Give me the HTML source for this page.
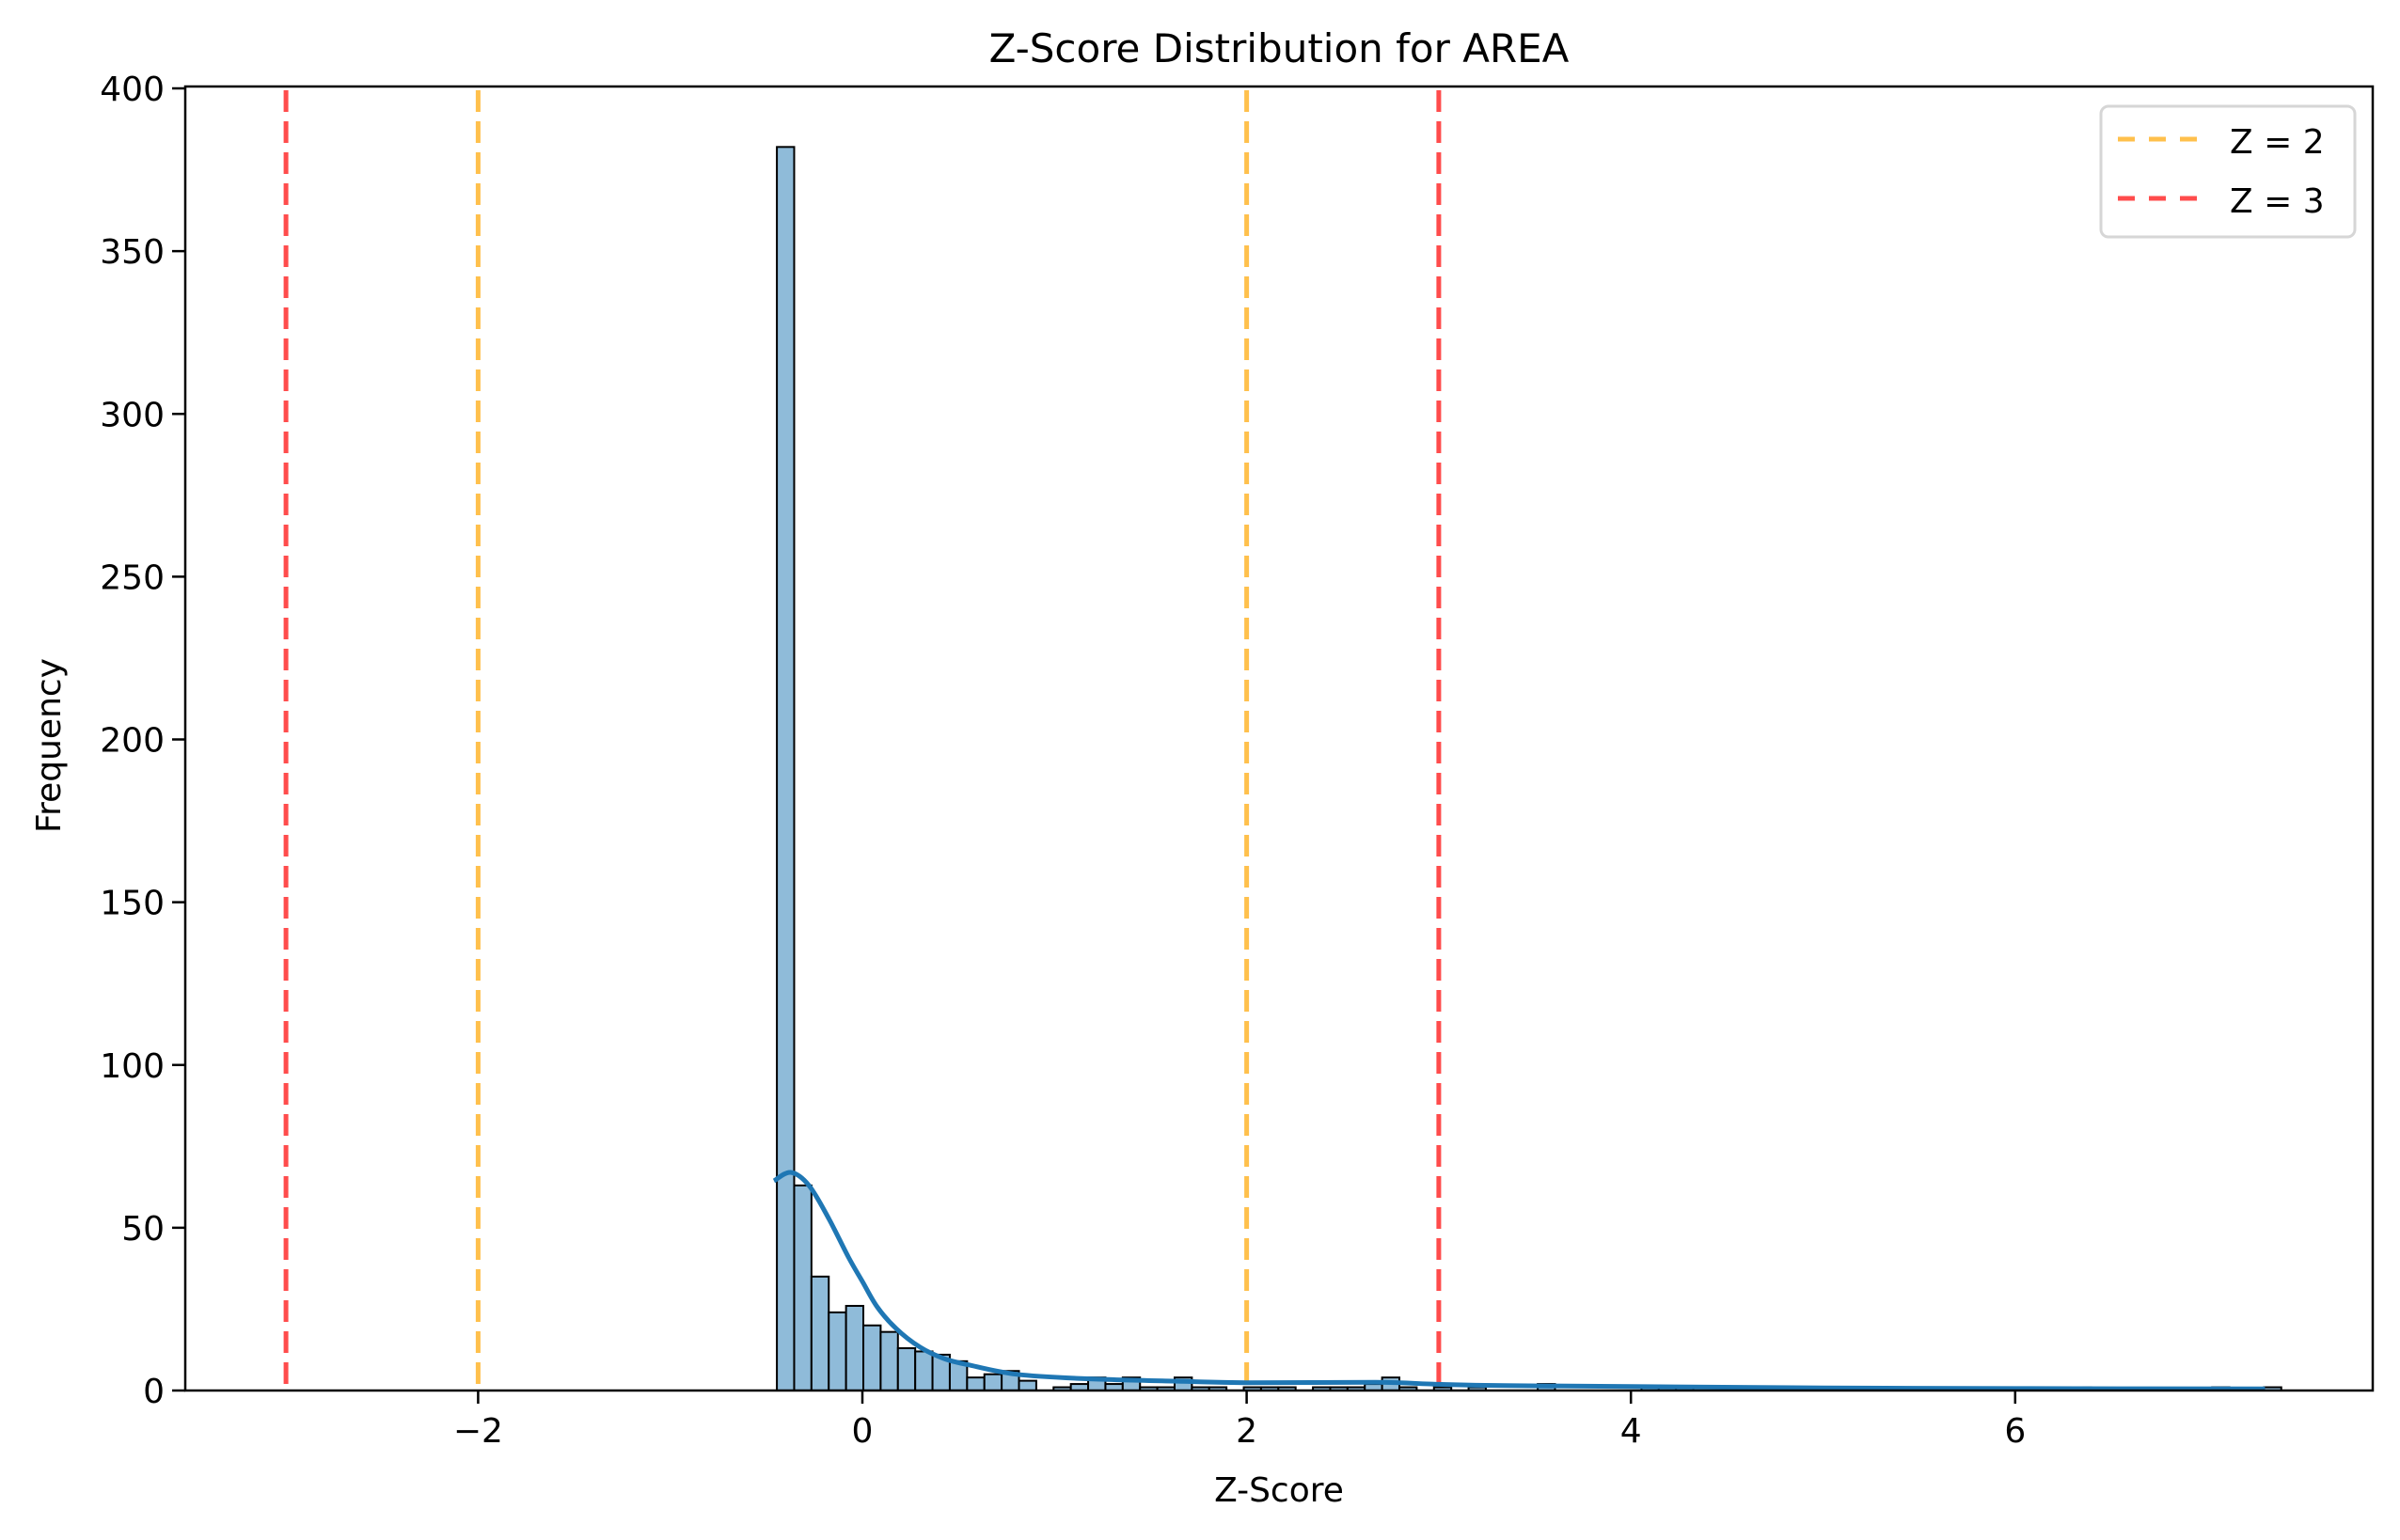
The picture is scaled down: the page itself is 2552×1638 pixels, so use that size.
<!DOCTYPE html>
<html><head><meta charset="utf-8"><style>
html,body{margin:0;padding:0;background:#fff}
svg{display:block}
text{font-family:"DejaVu Sans","Liberation Sans",sans-serif;fill:#000}
</style></head><body>
<svg id="chart" width="2552" height="1638" viewBox="0 0 2552 1638" xmlns="http://www.w3.org/2000/svg">
<rect width="2552" height="1638" fill="#fff"/>
<g id="bars"></g>
<g id="refs"></g>
<g id="kde"></g>
<g id="axes"></g>
<text x="1360" y="66" font-size="42" text-anchor="middle">Z-Score Distribution for AREA</text>
<text x="1360" y="1597" font-size="36" text-anchor="middle">Z-Score</text>
<text transform="translate(64,793) rotate(-90)" font-size="36" text-anchor="middle">Frequency</text>
<g>
<rect x="2234" y="113" width="270" height="139" rx="8" fill="#fff" stroke="#d6d6d6" stroke-width="3"/>
<line x1="2252" y1="148" x2="2336" y2="148" stroke="orange" stroke-opacity="0.7" stroke-width="5" stroke-dasharray="18,15"/>
<text x="2371" y="163" font-size="36">Z = 2</text>
<line x1="2252" y1="211" x2="2336" y2="211" stroke="red" stroke-opacity="0.7" stroke-width="5" stroke-dasharray="18,15"/>
<text x="2371" y="226" font-size="36">Z = 3</text>
</g>
</svg>
<script>
const binStart = -0.445;
const binWidth = 0.09;
const binCounts = [382,63,35,24,26,20,18,13,12,11,9,4,5,6,3,0,1,2,4,2,4,1,1,4,1,1,0,1,1,1,0,1,1,1,2,4,1,0,1,0,1,0,0,0,2,0,0,0,0,0,1,1,1,0,0,0,0,0,0,1,0,0,0,0,0,1,0,1,0,0,0,0,0,0,1,1,0,0,0,0,0,0,0,1,0,0,1];
const kdeX = [-0.46,-0.373,-0.278,-0.173,-0.073,0,0.077,0.176,0.30,0.426,0.55,0.80,1.17,1.67,2.0,2.67,3.0,3.34,4.0,5.0,6.0,7.3];
const kdeY = [64.4,67,63,52.6,41,33.5,25.7,19,13.3,9.8,7.9,5,3.6,2.8,2.4,2.5,1.9,1.5,1.2,0.8,0.6,0.5];
const xTicks = [-2,0,2,4,6];
const yTicks = [0,50,100,150,200,250,300,350,400];
const refZ = [-3,-2,2,3];
const refColors = ["red","orange","orange","red"];

const L=197,R=2523,T=92,B=1479;
const X=z=>917+z*204.3;
const Y=v=>B-v*3.4625;
const NS="http://www.w3.org/2000/svg";
function mk(tag,attrs,parent){const e=document.createElementNS(NS,tag);for(const k in attrs)e.setAttribute(k,attrs[k]);parent.appendChild(e);return e;}

const gb=document.getElementById('bars');
binCounts.forEach((c,i)=>{
  if(c<=0)return;
  const x0=X(binStart+i*binWidth),x1=X(binStart+(i+1)*binWidth);
  const r=mk('rect',{x:x0,y:Y(c),width:x1-x0,height:B-Y(c),fill:'#8fbbd9',stroke:'#000','stroke-width':2},gb);
  
  
});

const gr=document.getElementById('refs');
refZ.forEach((z,i)=>{
  const l=mk('line',{x1:X(z),y1:T+4,x2:X(z),y2:B,stroke:refColors[i],'stroke-opacity':0.7,'stroke-width':5,'stroke-dasharray':'23,10'},gr);
  
  
});

const gk=document.getElementById('kde');
const pts=kdeX.map((x,i)=>[X(x),Y(kdeY[i])]);
let d='M'+pts[0][0].toFixed(1)+','+pts[0][1].toFixed(1);
for(let i=0;i<pts.length-1;i++){
  const p0=pts[Math.max(0,i-1)],p1=pts[i],p2=pts[i+1],p3=pts[Math.min(pts.length-1,i+2)];
  const c1=[p1[0]+(p2[0]-p0[0])/6,p1[1]+(p2[1]-p0[1])/6];
  const c2=[p2[0]-(p3[0]-p1[0])/6,p2[1]-(p3[1]-p1[1])/6];
  d+=' C'+c1[0].toFixed(1)+','+c1[1].toFixed(1)+' '+c2[0].toFixed(1)+','+c2[1].toFixed(1)+' '+p2[0].toFixed(1)+','+p2[1].toFixed(1);
}
const p=mk('path',{d:d,fill:'none',stroke:'#1f77b4','stroke-width':5,'stroke-linejoin':'round'},gk);



const ga=document.getElementById('axes');
const fr=mk('rect',{x:L,y:T,width:R-L,height:B-T,fill:'none',stroke:'#000','stroke-width':2.5},ga);


xTicks.forEach(t=>{
  const tl=mk('line',{x1:X(t),y1:B,x2:X(t),y2:B+14,stroke:'#000','stroke-width':2.5},ga);
  
  
  const tx=mk('text',{x:X(t),y:B+55,'font-size':36,'text-anchor':'middle'},ga);
  tx.textContent=t<0?'\u2212'+Math.abs(t):String(t);
  
  
});
yTicks.forEach(t=>{
  const tl=mk('line',{x1:L-14,y1:Y(t),x2:L,y2:Y(t),stroke:'#000','stroke-width':2.5},ga);
  
  
  const tx=mk('text',{x:L-22,y:Y(t)+13,'font-size':36,'text-anchor':'end'},ga);
  tx.textContent=String(t);
  
  
});
</script>
</body></html>
